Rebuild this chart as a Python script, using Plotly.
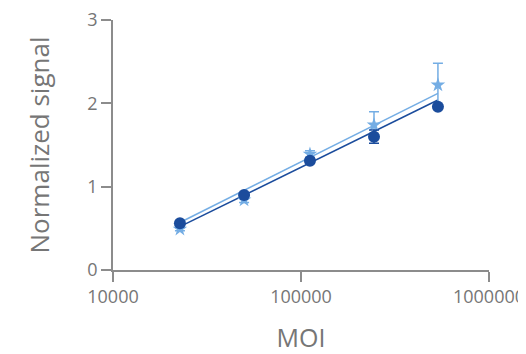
import plotly.graph_objects as go

moi = [22700, 49800, 111600, 244500, 535000]
signal_a = [0.56, 0.90, 1.31, 1.60, 1.96]      # dark circles
err_a = [0.02, 0.02, 0.03, 0.08, 0.02]
signal_b = [0.49, 0.84, 1.39, 1.74, 2.22]      # light stars
err_b = [0.02, 0.03, 0.04, 0.16, 0.26]
trend_x = [22700, 535000]
trend_a = [0.52, 2.04]
trend_b = [0.57, 2.12]

dark = "#1b4c9c"
light = "#74ade4"
grey = "#8c8c8c"
txt = "#767676"
font = "Open Sans"

fig = go.Figure()
fig.add_trace(go.Scatter(x=trend_x, y=trend_b, mode="lines",
                         line=dict(color=light, width=1.5), showlegend=False))
fig.add_trace(go.Scatter(x=trend_x, y=trend_a, mode="lines",
                         line=dict(color=dark, width=1.5), showlegend=False))
fig.add_trace(go.Scatter(x=moi, y=signal_b, mode="markers",
                         marker=dict(symbol="star", size=11, color=light),
                         error_y=dict(type="data", array=err_b, color=light,
                                      thickness=1.5, width=5),
                         showlegend=False))
fig.add_trace(go.Scatter(x=moi, y=signal_a, mode="markers",
                         marker=dict(symbol="circle", size=12, color=dark),
                         error_y=dict(type="data", array=err_a, color=dark,
                                      thickness=1.5, width=5),
                         showlegend=False))

fig.update_layout(
    width=518, height=346,
    margin=dict(l=105, r=37, t=12, b=84),
    paper_bgcolor="white", plot_bgcolor="white",
    font=dict(family=font, color=txt, size=16),
    xaxis=dict(type="log", range=[4, 6], tickvals=[10000, 100000, 1000000],
               ticktext=["10000", "100000", "1000000"], automargin=False,
               ticklabeloverflow="allow",
               showgrid=False, zeroline=False, showline=True,
               linecolor=grey, linewidth=1.5, ticks="outside",
               ticklen=10, tickcolor=grey, tickwidth=1.5,
               tickfont=dict(size=18, color=txt),
               title=dict(text="MOI", font=dict(size=25, color=txt), standoff=31)),
    yaxis=dict(range=[0, 3], tickvals=[0, 1, 2, 3], automargin=False,
               ticklabeloverflow="allow",
               showgrid=False, zeroline=False, showline=True,
               linecolor=grey, linewidth=1.5, ticks="outside",
               ticklen=10, tickcolor=grey, tickwidth=1.5,
               tickfont=dict(size=18, color=txt),
               title=dict(text="Normalized signal", font=dict(size=26, color=txt), standoff=30)),
)

fig.write_html("out.html")
